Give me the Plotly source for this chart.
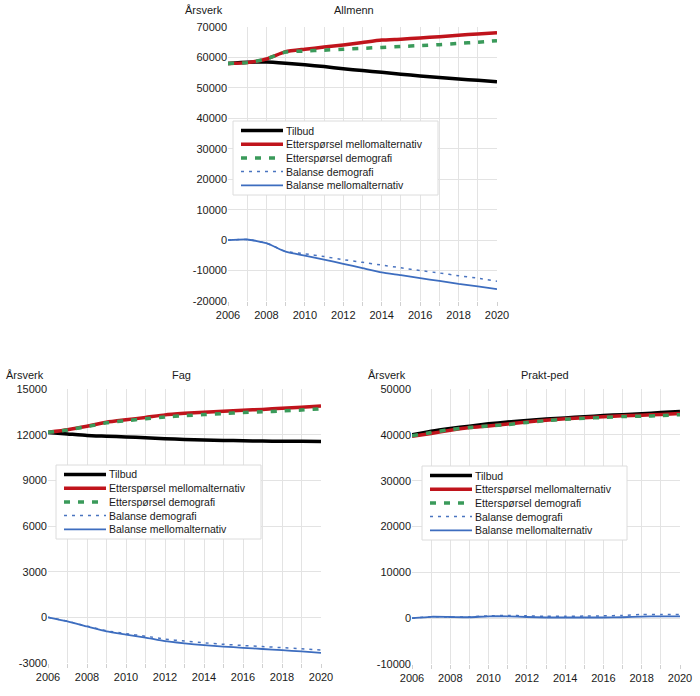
import plotly.graph_objects as go

years = [2006, 2007, 2008, 2009, 2010, 2011, 2012, 2013, 2014, 2015, 2016, 2017, 2018, 2019, 2020]

series_names = ["Tilbud", "Etterspørsel mellomalternativ", "Etterspørsel demografi",
                "Balanse demografi", "Balanse mellomalternativ"]

# Allmenn
allmenn_tilbud = [58000, 58400, 58500, 58100, 57600, 57000, 56300, 55700, 55100, 54500, 53900, 53400, 52900, 52500, 52000]
allmenn_mellom = [58000, 58300, 59500, 61900, 62700, 63400, 64100, 64900, 65700, 66000, 66400, 66800, 67300, 67700, 68100]
allmenn_demo = [58000, 58300, 59500, 61800, 62100, 62400, 62700, 63000, 63300, 63600, 63900, 64200, 64600, 65000, 65500]
allmenn_bal_demo = [0, 200, -1000, -3700, -4500, -5400, -6400, -7300, -8200, -9100, -10000, -10800, -11700, -12500, -13500]
allmenn_bal_mellom = [0, 200, -1000, -3800, -5100, -6400, -7800, -9200, -10600, -11500, -12500, -13400, -14400, -15200, -16100]

# Fag
fag_tilbud = [12150, 12050, 11950, 11900, 11850, 11800, 11730, 11690, 11650, 11620, 11600, 11580, 11570, 11560, 11550]
fag_mellom = [12150, 12320, 12550, 12820, 12980, 13130, 13300, 13400, 13480, 13540, 13600, 13660, 13730, 13800, 13880]
fag_demo = [12150, 12310, 12530, 12780, 12920, 13040, 13160, 13250, 13320, 13390, 13450, 13500, 13560, 13620, 13700]
fag_bal_demo = [0, -250, -580, -880, -1070, -1240, -1430, -1560, -1670, -1770, -1850, -1920, -1990, -2060, -2150]
fag_bal_mellom = [0, -270, -600, -920, -1130, -1330, -1570, -1710, -1830, -1920, -2000, -2080, -2160, -2240, -2330]

# Prakt-ped
prakt_tilbud = [40000, 40800, 41400, 41900, 42400, 42800, 43150, 43450, 43700, 43950, 44200, 44400, 44600, 44850, 45100]
prakt_mellom = [39700, 40300, 41000, 41600, 41950, 42350, 42800, 43200, 43500, 43750, 43950, 44150, 44300, 44450, 44650]
prakt_demo = [39800, 40500, 41150, 41600, 41950, 42250, 42700, 43100, 43400, 43600, 43800, 44000, 44050, 44200, 44400]
prakt_bal_demo = [0, 300, 250, 300, 500, 600, 500, 400, 400, 450, 500, 600, 800, 800, 800]
prakt_bal_mellom = [0, 300, 250, 200, 400, 400, 250, 150, 150, 150, 150, 200, 350, 400, 400]

# Tick labels
allmenn_yticks = [-20000, -10000, 0, 10000, 20000, 30000, 40000, 50000, 60000, 70000]
fag_yticks = [-3000, 0, 3000, 6000, 9000, 12000, 15000]
prakt_yticks = [-10000, 0, 10000, 20000, 30000, 40000, 50000]
x_ticks = [2006, 2008, 2010, 2012, 2014, 2016, 2018, 2020]

panel_titles = ["Allmenn", "Fag", "Prakt-ped"]
y_unit = "Årsverk"

W, H = 700, 696
FONT = "Liberation Sans, Arial, sans-serif"

styles = [
    dict(color="#000000", width=3.5),
    dict(color="#c0141c", width=3.5),
    dict(color="#3a9a5a", width=3.5, dash="6px,8px"),
    dict(color="#4a74c0", width=1.5, dash="3px,5px"),
    dict(color="#3d6dbf", width=1.8),
]

panels = [
    dict(data=[allmenn_tilbud, allmenn_mellom, allmenn_demo, allmenn_bal_demo, allmenn_bal_mellom],
         yticks=allmenn_yticks, px=(228, 497), py=(27, 301), leg=(233, 121),
         unit_x=204, title_x=354, lab_y=10),
    dict(data=[fag_tilbud, fag_mellom, fag_demo, fag_bal_demo, fag_bal_mellom],
         yticks=fag_yticks, px=(48, 321), py=(389, 663), leg=(56, 465),
         unit_x=25, title_x=181, lab_y=375),
    dict(data=[prakt_tilbud, prakt_mellom, prakt_demo, prakt_bal_demo, prakt_bal_mellom],
         yticks=prakt_yticks, px=(412, 680), py=(389, 664), leg=(422, 466),
         unit_x=387, title_x=545, lab_y=375),
]

fig = go.Figure()
shapes = []
annotations = []


def fx(p):
    return p / W


def fy(p):
    return 1 - p / H


LEG_FS = 10.5
ROW = 13.7

for i, pn in enumerate(panels):
    n = "" if i == 0 else str(i + 1)
    for k, (name, vals) in enumerate(zip(series_names, pn["data"])):
        fig.add_trace(go.Scatter(
            x=years, y=vals, name=name, mode="lines",
            line=dict(shape="spline", smoothing=0.5, **styles[k]),
            xaxis="x" + n, yaxis="y" + n, showlegend=False,
        ))
    yt = pn["yticks"]
    fig.layout["xaxis" + n] = dict(
        domain=[fx(pn["px"][0]), fx(pn["px"][1])], anchor="y" + n,
        range=[years[0], years[-1]], tickvals=x_ticks, ticktext=[str(v) for v in x_ticks],
        showgrid=True, gridcolor="#e3e3e3", gridwidth=1,
        ticks="outside", ticklen=4, tickcolor="#d0d0d0",
        minor=dict(dtick=1, tick0=2006, showgrid=True, gridcolor="#e3e3e3",
                   ticks="outside", ticklen=4, tickcolor="#d0d0d0"),
        showline=False, zeroline=False, fixedrange=True, automargin=False,
        tickfont=dict(family=FONT, size=11, color="#1a1a1a"),
    )
    fig.layout["yaxis" + n] = dict(
        domain=[fy(pn["py"][1]), fy(pn["py"][0])], anchor="x" + n,
        range=[yt[0], yt[-1]], tickvals=yt, ticktext=[str(v) for v in yt],
        showgrid=True, gridcolor="#e3e3e3", gridwidth=1,
        zeroline=False, showline=False, ticks="", fixedrange=True, automargin=False,
        tickfont=dict(family=FONT, size=11, color="#1a1a1a"),
    )
    annotations.append(dict(x=fx(pn["unit_x"]), y=fy(pn["lab_y"]), xref="paper", yref="paper",
                            text=y_unit, showarrow=False, xanchor="center", yanchor="middle",
                            font=dict(family=FONT, size=11, color="#1a1a1a")))
    annotations.append(dict(x=fx(pn["title_x"]), y=fy(pn["lab_y"]), xref="paper", yref="paper",
                            text=panel_titles[i], showarrow=False, xanchor="center", yanchor="middle",
                            font=dict(family=FONT, size=11, color="#1a1a1a")))
    # legend box
    lx, ly = pn["leg"]
    bw, bh = 205, 74
    shapes.append(dict(type="rect", xref="paper", yref="paper",
                       x0=fx(lx), x1=fx(lx + bw), y0=fy(ly + bh), y1=fy(ly),
                       line=dict(color="#dcdcdc", width=1), fillcolor="white", layer="above"))
    for k, name in enumerate(series_names):
        ry = ly + 9.5 + ROW * k
        st = styles[k]
        ld = dict(color=st["color"], width=st["width"])
        if "dash" in st:
            ld["dash"] = st["dash"]
        shapes.append(dict(type="line", xref="paper", yref="paper",
                           x0=fx(lx + 8), x1=fx(lx + 50), y0=fy(ry), y1=fy(ry),
                           line=ld, layer="above"))
        annotations.append(dict(x=fx(lx + 52), y=fy(ry), xref="paper", yref="paper",
                                text=name, showarrow=False, xanchor="left", yanchor="middle",
                                borderpad=0,
                                font=dict(family=FONT, size=LEG_FS, color="#1a1a1a")))

fig.update_layout(
    width=W, height=H, margin=dict(l=0, r=0, t=0, b=0, autoexpand=False),
    paper_bgcolor="white", plot_bgcolor="white",
    shapes=shapes, annotations=annotations, showlegend=False,
    font=dict(family=FONT, size=11),
)

fig.write_html("out.html", config={"displayModeBar": False},
               post_script="document.body.style.margin='0';document.body.style.overflow='hidden';")
